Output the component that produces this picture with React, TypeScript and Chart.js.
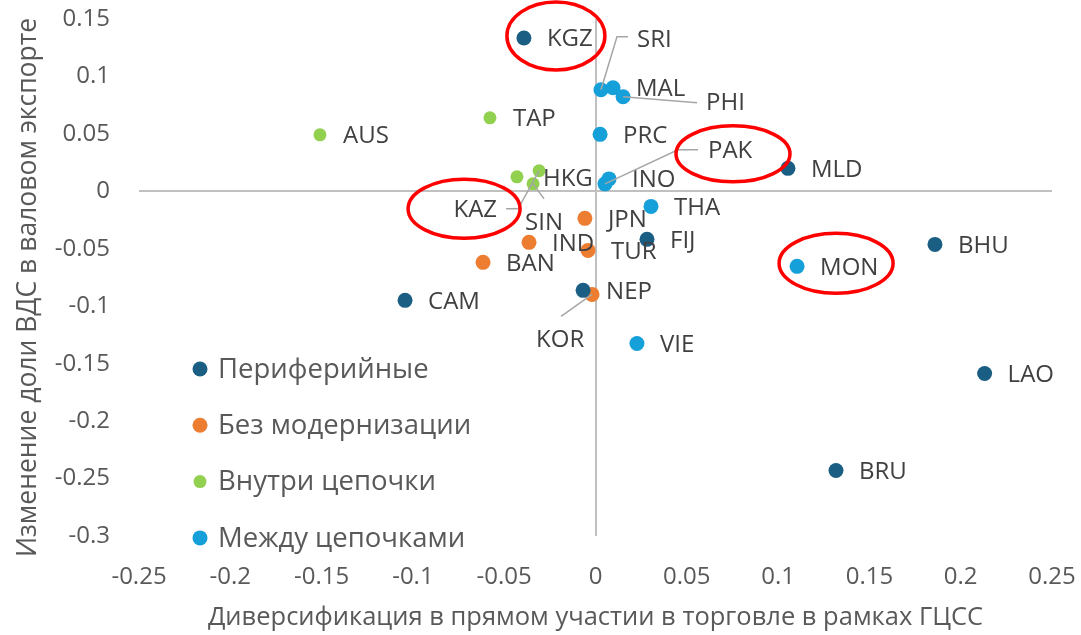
import React, { useEffect, useRef } from 'react';
import { Chart, registerables } from 'chart.js';

Chart.register(...registerables);

// ---------- DATA ----------
const seriesNames = ['Периферийные', 'Без модернизации', 'Внутри цепочки', 'Между цепочками'];

const periphNames = ['KGZ', 'FIJ', 'CAM', 'NEP', 'MLD', 'BHU', 'LAO', 'BRU'];
const periphX = [-0.0392, 0.0282, -0.1043, -0.0068, 0.1054, 0.1859, 0.2131, 0.1317];
const periphY = [0.1335, -0.0418, -0.0949, -0.0862, 0.02, -0.0462, -0.1585, -0.243];

const noUpNames = ['JPN', 'IND', 'TUR', 'BAN', 'KOR'];
const noUpX = [-0.0058, -0.0364, -0.0041, -0.0616, -0.0019];
const noUpY = [-0.0235, -0.0444, -0.0514, -0.0618, -0.0897];

const withinNames = ['TAP', 'AUS', 'HKG', 'KAZ', 'SIN'];
const withinX = [-0.0578, -0.1509, -0.043, -0.0309, -0.0342];
const withinY = [0.064, 0.0492, 0.0126, 0.0179, 0.0065];

const betweenNames = ['SRI', 'MAL', 'PHI', 'PRC', 'INO', 'PAK', 'THA', 'VIE', 'MON'];
const betweenX = [0.003, 0.0096, 0.0151, 0.0025, 0.0074, 0.0052, 0.0304, 0.0227, 0.1104];
const betweenY = [0.0884, 0.0901, 0.0823, 0.0496, 0.0108, 0.0065, -0.0131, -0.1324, -0.0653];

const xTicks = [-0.25, -0.2, -0.15, -0.1, -0.05, 0, 0.05, 0.1, 0.15, 0.2, 0.25];
const yTicks = [0.15, 0.1, 0.05, 0, -0.05, -0.1, -0.15, -0.2, -0.25, -0.3];

const xTitle = 'Диверсификация в прямом участии в торговле в рамках ГЦСС';
const yTitle = 'Изменение доли ВДС в валовом экспорте';

const highlighted = ['KGZ', 'PAK', 'KAZ', 'MON'];

// ---------- STYLE ----------
const COLORS = ['#1b5e83', '#ed7d31', '#92d050', '#15a0da'];
const RADII = [7.5, 7.5, 6.5, 7.5];
const FONT = "'Open Sans', 'DejaVu Sans', sans-serif";
const TEXT = '#404040';
const TICK = '#595959';

type Lay = { dx: number; dy: number; align?: CanvasTextAlign; leader?: [number, number][] };
const DEFAULT_LAY: Lay = { dx: 23, dy: 1.5 };
const LABEL_LAYOUT: Record<string, Lay> = {
  SRI: { dx: 36, dy: -50, leader: [[16, -53], [27, -53]] },
  PHI: { dx: 83, dy: 6, leader: [[74, 6]] },
  PAK: { dx: 103, dy: -33, leader: [[73, -34], [93, -34]] },
  KAZ: { dx: -42, dy: 39, align: 'right', leader: [[-21, 38], [-33, 38]] },
  SIN: { dx: -8, dy: 39, leader: [[11, 15]] },
  KOR: { dx: -56, dy: 46, leader: [[-31, 22]] },
  HKG: { dx: 26, dy: 2 },
};
const ELLIPSES: Record<string, [number, number, number, number]> = {
  KGZ: [32, -2, 49, 34],
  PAK: [128, -30, 57, 28],
  KAZ: [-75, 38, 56, 29.5],
  MON: [39, -3, 57, 30],
};

const SERIES = [
  { names: periphNames, xs: periphX, ys: periphY },
  { names: noUpNames, xs: noUpX, ys: noUpY },
  { names: withinNames, xs: withinX, ys: withinY },
  { names: betweenNames, xs: betweenX, ys: betweenY },
];

const fmt = (v: number) => {
  const r = Math.round(v * 100) / 100;
  return r === 0 ? '0' : String(r);
};

const labelPlugin = {
  id: 'pointLabels',
  afterDatasetsDraw(chart: any) {
    const ctx: CanvasRenderingContext2D = chart.ctx;
    ctx.save();
    ctx.font = `24px ${FONT}`;
    ctx.textBaseline = 'middle';
    SERIES.forEach((s, di) => {
      const meta = chart.getDatasetMeta(di);
      meta.data.forEach((el: any, i: number) => {
        const name = s.names[i];
        const lay = LABEL_LAYOUT[name] || DEFAULT_LAY;
        const px = el.x;
        const py = el.y;
        if (lay.leader) {
          ctx.strokeStyle = '#a6a6a6';
          ctx.lineWidth = 1.5;
          ctx.beginPath();
          ctx.moveTo(px, py);
          lay.leader.forEach(([lx, ly]) => ctx.lineTo(px + lx, py + ly));
          ctx.stroke();
        }
        ctx.fillStyle = TEXT;
        ctx.textAlign = lay.align || 'left';
        ctx.fillText(name, px + lay.dx, py + lay.dy);
        if (highlighted.includes(name) && ELLIPSES[name]) {
          const [ex, ey, rx, ry] = ELLIPSES[name];
          ctx.strokeStyle = '#ff0000';
          ctx.lineWidth = 3.5;
          ctx.beginPath();
          ctx.ellipse(px + ex, py + ey, rx, ry, 0, 0, Math.PI * 2);
          ctx.stroke();
        }
      });
    });
    ctx.restore();
  },
};

const legendPlugin = {
  id: 'innerLegend',
  afterDraw(chart: any) {
    const ctx: CanvasRenderingContext2D = chart.ctx;
    const area = chart.chartArea;
    ctx.save();
    ctx.font = `27.5px ${FONT}`;
    ctx.textBaseline = 'middle';
    ctx.textAlign = 'left';
    chart.data.datasets.forEach((ds: any, i: number) => {
      const cx = area.left + 61;
      const cy = area.top + 350 + i * 56.3;
      ctx.fillStyle = ds.backgroundColor;
      ctx.beginPath();
      ctx.arc(cx, cy, i === 2 ? 6.5 : 7.5, 0, Math.PI * 2);
      ctx.fill();
      ctx.fillStyle = TICK;
      ctx.fillText(ds.label, cx + 18, cy + 1);
    });
    // vertical axis title
    ctx.font = `26.5px ${FONT}`;
    ctx.textAlign = 'center';
    ctx.fillStyle = TICK;
    ctx.translate(28, (area.top + area.bottom) / 2 + 10);
    ctx.rotate(-Math.PI / 2);
    ctx.fillText(yTitle, 0, 0);
    ctx.restore();
  },
};

export default function App() {
  const ref = useRef<HTMLCanvasElement | null>(null);
  useEffect(() => {
    if (!ref.current) return;
    const chart = new Chart(ref.current, {
      type: 'scatter',
      data: {
        datasets: SERIES.map((s, i) => ({
          label: seriesNames[i],
          data: s.xs.map((x, j) => ({ x, y: s.ys[j] })),
          backgroundColor: COLORS[i],
          borderColor: COLORS[i],
          borderWidth: 0,
          pointRadius: RADII[i],
          pointHoverRadius: RADII[i],
        })),
      },
      options: {
        animation: false,
        responsive: false,
        events: [],
        layout: { padding: { top: 19, right: 29, left: 0, bottom: 0 }, autoPadding: false },
        plugins: { legend: { display: false }, tooltip: { enabled: false } },
        scales: {
          x: {
            type: 'linear',
            min: -0.25,
            max: 0.25,
            afterFit: (s: any) => { s.height = 99; s.paddingLeft = 0; s.paddingRight = 0; },
            afterBuildTicks: (s: any) => { s.ticks = xTicks.map((v) => ({ value: v })); },
            ticks: { callback: (v: any) => fmt(Number(v)), color: TICK, font: { family: FONT, size: 24 }, padding: 27, maxRotation: 0, autoSkip: false },
            grid: { drawTicks: false, lineWidth: 2, color: (c: any) => (c.tick && Math.abs(c.tick.value) < 1e-9 ? '#c0c0c0' : 'rgba(0,0,0,0)') },
            border: { display: false },
            title: { display: true, text: xTitle, color: TICK, font: { family: FONT, size: 25.5, lineHeight: 1.2 }, padding: { top: 0, bottom: 2 } },
          },
          y: {
            type: 'linear',
            min: -0.3,
            max: 0.15,
            afterFit: (s: any) => { s.width = 139; s.paddingTop = 0; s.paddingBottom = 0; },
            afterBuildTicks: (s: any) => { s.ticks = yTicks.map((v) => ({ value: v })); },
            ticks: { callback: (v: any) => fmt(Number(v)), color: TICK, font: { family: FONT, size: 24 }, padding: 29, autoSkip: false },
            grid: { drawTicks: false, lineWidth: 2, color: (c: any) => (c.tick && Math.abs(c.tick.value) < 1e-9 ? '#c0c0c0' : 'rgba(0,0,0,0)') },
            border: { display: false },
            title: { display: false, text: yTitle },
          },
        },
      },
      plugins: [labelPlugin, legendPlugin],
    } as any);
    return () => chart.destroy();
  }, []);
  return (
    <div style={{ position: 'absolute', left: 0, top: 0, width: 1081, height: 635, background: '#fff' }}>
      <canvas ref={ref} width={1081} height={635} style={{ width: 1081, height: 635, display: 'block' }} />
    </div>
  );
}
